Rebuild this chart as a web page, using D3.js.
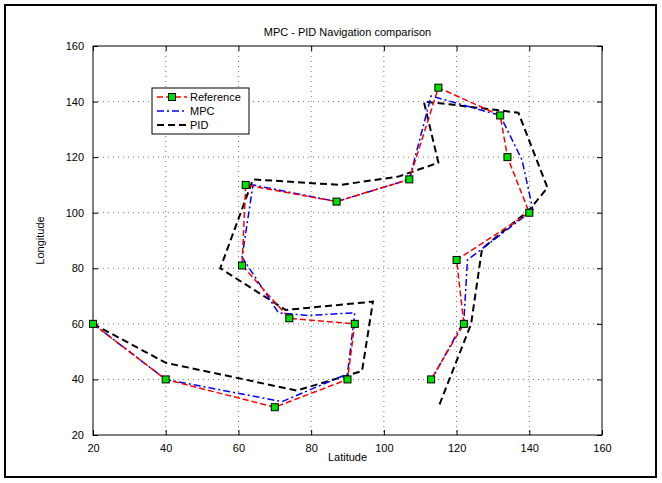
<!DOCTYPE html>
<html><head><meta charset="utf-8">
<script src="https://cdn.jsdelivr.net/npm/d3@7"></script>
<style>body{margin:0;background:#fff}svg{display:block;font-family:"Liberation Sans",Arial,sans-serif}</style>
</head><body><svg id="c" width="662" height="483"></svg>
<script>
const xTicks = [20,40,60,80,100,120,140,160];
const yTicks = [20,40,60,80,100,120,140,160];
const refX = [20,40,70,90,92,74,61,62,87,107,115,132,134,140,120,122,113];
const refY = [60,40,30,40,60,62,81,110,104,112,145,135,120,100,83,60,40];
const mpcX = [20,40,72,90,92,79,71,61,64,87,107,113,132,138,141,123,122,114];
const mpcY = [60,40,32,42,64,63,64,84,110,104,112,142,135,119,101,83,61,42];
const pidX = [20,40,76,94,97,73,55,64,88,104,115,111,118,137,145,140,127,124,115];
const pidY = [60,46,36,43,68,65,80,112,110,113,118,140,139,136,109,101,87,60,30];
const seriesNames = ["Reference","MPC","PID"];

const svg = d3.select("#c");
const L=93,R=602,T=46,B=435;
const x = d3.scaleLinear().domain([20,160]).range([L,R]);
const y = d3.scaleLinear().domain([20,160]).range([B,T]);

svg.append("rect").attr("x",5).attr("y",5).attr("width",651).attr("height",472)
  .attr("fill","none").attr("stroke","#000").attr("stroke-width",2);

// grid
const g = svg.append("g");
g.selectAll(".gx").data(xTicks.slice(1,-1)).enter().append("line")
  .attr("x1",d=>x(d)).attr("x2",d=>x(d)).attr("y1",T).attr("y2",B)
  .attr("stroke","#777").attr("stroke-dasharray","1,4").attr("stroke-width",1);
g.selectAll(".gy").data(yTicks.slice(1,-1)).enter().append("line")
  .attr("y1",d=>y(d)).attr("y2",d=>y(d)).attr("x1",L).attr("x2",R)
  .attr("stroke","#777").attr("stroke-dasharray","1,4").attr("stroke-width",1);

// axes
const ax = svg.append("g").attr("transform",`translate(0,${B})`)
  .call(d3.axisBottom(x).tickValues(xTicks).tickSizeInner(-5).tickSizeOuter(0).tickPadding(9));
const ay = svg.append("g").attr("transform",`translate(${L},0)`)
  .call(d3.axisLeft(y).tickValues(yTicks).tickSizeInner(-5).tickSizeOuter(0).tickPadding(9));
[ax,ay].forEach(a=>{a.select(".domain").remove();a.selectAll("text").attr("font-size",11).attr("fill","#000").attr("font-family","Liberation Sans, Arial, sans-serif");a.selectAll("line").attr("stroke","#000");});
// top/right ticks
svg.append("g").attr("transform",`translate(0,${T})`)
  .call(d3.axisTop(x).tickValues(xTicks).tickSizeInner(-5).tickSizeOuter(0).tickFormat(""))
  .call(a=>a.select(".domain").remove());
svg.append("g").attr("transform",`translate(${R},0)`)
  .call(d3.axisRight(y).tickValues(yTicks).tickSizeInner(-5).tickSizeOuter(0).tickFormat(""))
  .call(a=>a.select(".domain").remove());
svg.append("rect").attr("x",L).attr("y",T).attr("width",R-L).attr("height",B-T)
  .attr("fill","none").attr("stroke","#000").attr("stroke-width",1);

const line = d3.line().x(d=>x(d[0])).y(d=>y(d[1]));
const pid = pidX.map((v,i)=>[v,pidY[i]]);
const mpc = mpcX.map((v,i)=>[v,mpcY[i]]);
const ref = refX.map((v,i)=>[v,refY[i]]);
svg.append("path").attr("d",line(pid)).attr("fill","none").attr("stroke","#000").attr("stroke-width",2).attr("stroke-dasharray","7,4");
svg.append("path").attr("d",line(mpc)).attr("fill","none").attr("stroke","#0000ff").attr("stroke-width",1.5).attr("stroke-dasharray","7,3,2,3");
svg.append("path").attr("d",line(ref)).attr("fill","none").attr("stroke","#ff0000").attr("stroke-width",1.5).attr("stroke-dasharray","6,3");
svg.selectAll(".m").data(ref).enter().append("rect")
  .attr("x",d=>x(d[0])-3.5).attr("y",d=>y(d[1])-3.5).attr("width",7).attr("height",7)
  .attr("fill","#00e000").attr("stroke","#000").attr("stroke-width",1);

// title & labels
svg.append("text").attr("x",(L+R)/2).attr("y",36).attr("text-anchor","middle").attr("font-size",11).text("MPC - PID Navigation comparison");
svg.append("text").attr("x",(L+R)/2).attr("y",461).attr("text-anchor","middle").attr("font-size",11).text("Latitude");
svg.append("text").attr("transform",`translate(44,${(T+B)/2}) rotate(-90)`).attr("text-anchor","middle").attr("font-size",11).text("Longitude");

// legend
const lg = svg.append("g");
lg.append("rect").attr("x",152).attr("y",88).attr("width",97).attr("height",46).attr("fill","#fff").attr("stroke","#000");
const styles=[{c:"#ff0000",d:"6,3",w:1.5},{c:"#0000ff",d:"7,3,2,3",w:1.5},{c:"#000",d:"7,4",w:2}];
seriesNames.forEach((n,i)=>{
  const yy=97+i*14;
  lg.append("line").attr("x1",157).attr("x2",187).attr("y1",yy).attr("y2",yy).attr("stroke",styles[i].c).attr("stroke-width",styles[i].w).attr("stroke-dasharray",styles[i].d);
  if(i===0) lg.append("rect").attr("x",168.5).attr("y",yy-3.5).attr("width",7).attr("height",7).attr("fill","#00e000").attr("stroke","#000");
  lg.append("text").attr("x",190).attr("y",yy+4).attr("font-size",11).text(n);
});
</script></body></html>
